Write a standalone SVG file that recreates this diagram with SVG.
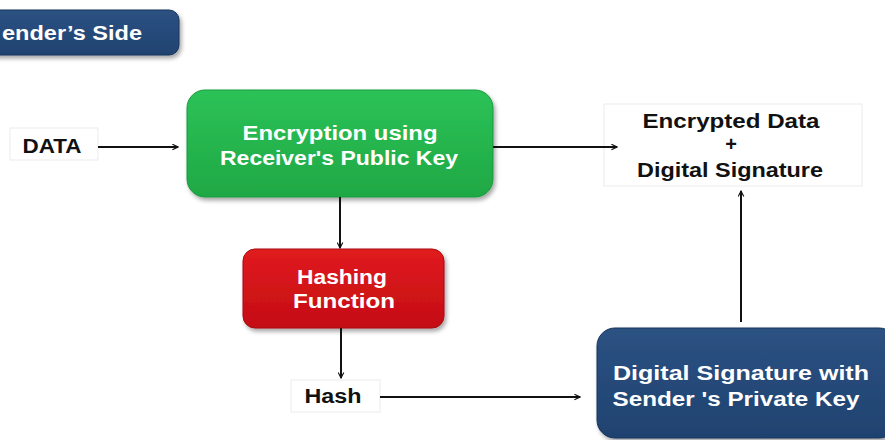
<svg xmlns="http://www.w3.org/2000/svg" width="885" height="440" viewBox="0 0 885 440">
<style>
.t{font-family:"Liberation Sans",Arial,sans-serif;font-weight:bold;text-anchor:middle}
.w{fill:#ffffff;font-size:20px}
.k{fill:#111111;font-size:20px}
.lbl{fill:#ffffff;stroke:#ebebeb;stroke-width:1}
.c{stroke:#111111;stroke-width:2;fill:none;marker-end:url(#ah)}
</style>
<defs>
<marker id="ah" viewBox="0 0 10 10" refX="9" refY="5" markerWidth="7" markerHeight="7" markerUnits="userSpaceOnUse" orient="auto">
<path d="M1,1 L9,5 L1,9" fill="none" stroke="#111111" stroke-width="1.6"/>
</marker>
<filter id="sh" x="-10%" y="-10%" width="130%" height="140%">
<feDropShadow dx="2" dy="3" stdDeviation="2" flood-color="#000" flood-opacity="0.35"/>
</filter>
<linearGradient id="gG" x1="0" y1="0" x2="0" y2="1"><stop offset="0" stop-color="#2cc258"/><stop offset="1" stop-color="#1fa845"/></linearGradient>
<linearGradient id="gR" x1="0" y1="0" x2="0" y2="1"><stop offset="0" stop-color="#e01b20"/><stop offset="1" stop-color="#c40d12"/></linearGradient>
<linearGradient id="gB" x1="0" y1="0" x2="0" y2="1"><stop offset="0" stop-color="#2b5282"/><stop offset="1" stop-color="#1f4270"/></linearGradient>
</defs>
<g id="sender-side">
<rect x="-20" y="10" width="199" height="45" rx="10" fill="url(#gB)" stroke="#16345a" stroke-width="1" filter="url(#sh)"/>
<text class="t w" x="2" y="40" style="text-anchor:start" textLength="140" lengthAdjust="spacingAndGlyphs">ender’s Side</text>
</g>
<g id="data">
<rect class="lbl" x="10" y="128" width="88" height="32"/>
<text class="t k" x="52" y="153" textLength="59" lengthAdjust="spacingAndGlyphs">DATA</text>
</g>
<g id="encryption">
<rect x="187" y="90" width="306" height="107" rx="18" fill="url(#gG)" stroke="#179a3c" stroke-width="1" filter="url(#sh)"/>
<text class="t w" x="340" y="140" textLength="195" lengthAdjust="spacingAndGlyphs">Encryption using</text>
<text class="t w" x="339" y="165" textLength="238" lengthAdjust="spacingAndGlyphs">Receiver's Public Key</text>
</g>
<g id="encrypted-output">
<rect class="lbl" x="604" y="104" width="258" height="82"/>
<text class="t k" x="731" y="128" textLength="177" lengthAdjust="spacingAndGlyphs">Encrypted Data</text>
<text class="t k" x="731" y="151">+</text>
<text class="t k" x="730" y="177" textLength="186" lengthAdjust="spacingAndGlyphs">Digital Signature</text>
</g>
<g id="hashing">
<rect x="243" y="249" width="201" height="79" rx="12" fill="url(#gR)" stroke="#a80a0e" stroke-width="1" filter="url(#sh)"/>
<text class="t w" x="342" y="284" textLength="90" lengthAdjust="spacingAndGlyphs">Hashing</text>
<text class="t w" x="344" y="308" textLength="102" lengthAdjust="spacingAndGlyphs">Function</text>
</g>
<g id="hash">
<rect class="lbl" x="291" y="380" width="89" height="32"/>
<text class="t k" x="333" y="403" textLength="57" lengthAdjust="spacingAndGlyphs">Hash</text>
</g>
<g id="digital-signature">
<rect x="597" y="328" width="300" height="110" rx="18" fill="url(#gB)" stroke="#16345a" stroke-width="1" filter="url(#sh)"/>
<text class="t w" x="741" y="380" textLength="256" lengthAdjust="spacingAndGlyphs">Digital Signature with</text>
<text class="t w" x="736" y="406" textLength="247" lengthAdjust="spacingAndGlyphs">Sender 's Private Key</text>
</g>
<g id="connectors">
<line class="c" x1="98" y1="147" x2="178" y2="147"/>
<line class="c" x1="493" y1="147" x2="617" y2="147"/>
<line class="c" x1="340" y1="197" x2="340" y2="248"/>
<line class="c" x1="341" y1="328" x2="341" y2="378"/>
<line class="c" x1="380" y1="397" x2="580" y2="397"/>
<line class="c" x1="741" y1="322" x2="741" y2="191"/>
</g>
</svg>
